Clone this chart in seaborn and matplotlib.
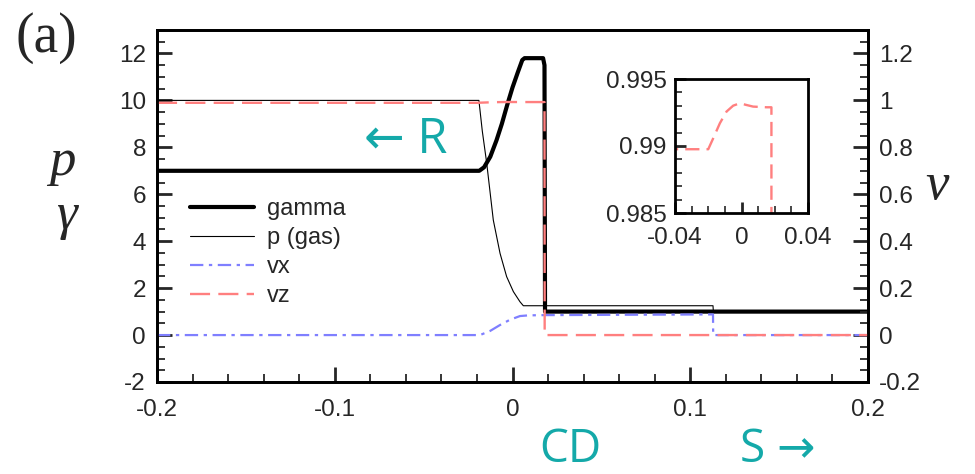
import numpy as np
import pandas as pd
import matplotlib
matplotlib.use("Agg")
import matplotlib.pyplot as plt
from matplotlib.ticker import MultipleLocator, FuncFormatter
import seaborn as sns

sns.set_style("white")
plt.rcParams["font.family"] = ["Liberation Sans", "DejaVu Sans"]
plt.rcParams["axes.unicode_minus"] = False

# Lorentz factor profile
x_gamma = [-0.2, -0.0187, -0.0160, -0.0125, -0.0090, -0.0060, -0.0030, 0.0000, 0.0030,
           0.0055, 0.0068, 0.0172, 0.0180, 0.0183, 0.2]
gamma = [7.0, 7.0, 7.15, 7.6, 8.3, 9.0, 9.8, 10.55, 11.2, 11.72, 11.8, 11.8, 11.5, 1.0, 1.0]

# gas pressure profile
x_p = [-0.2, -0.0189, -0.0170, -0.0145, -0.0108, -0.0070, -0.0033, 0.0005, 0.0042, 0.0061,
       0.1128, 0.1130, 0.2]
p_gas = [10.0, 10.0, 8.7, 7.32, 4.90, 3.48, 2.49, 1.85, 1.42, 1.25, 1.25, 1.0, 1.0]

# velocity components
x_vx = [-0.2, -0.0183, -0.0125, -0.0070, -0.0015, 0.0042, 0.0090, 0.0183, 0.1128, 0.1129, 0.2]
vx = [0.0, 0.0, 0.018, 0.043, 0.065, 0.081, 0.084, 0.085, 0.088, 0.0, 0.0]

x_vz = [-0.2, -0.020, -0.017, -0.013, -0.009, -0.005, -0.001, 0.003, 0.007, 0.015, 0.0180,
        0.0181, 0.2]
vz = [0.98976, 0.98976, 0.99058, 0.99170, 0.99257, 0.99301, 0.99319, 0.99306, 0.99294,
      0.99289, 0.99289, 0.0, 0.0]

labels = ["gamma", "p (gas)", "vx", "vz"]

TEAL = "#14a9a9"
BLUE = "#7f7fff"
PINK = "#ff7f7f"
TICK_FS = 17.5

W, H = 975, 474
fig = plt.figure(figsize=(W / 100, H / 100), dpi=100)
ax = fig.add_axes([157 / W, 1 - 382 / H, 711 / W, 352 / H])
ax2 = ax.twinx()

line_kw = dict(estimator=None, sort=False, legend=False)
sns.lineplot(x=x_gamma, y=gamma, ax=ax, color="black", linewidth=3.0, **line_kw)
sns.lineplot(x=x_p, y=p_gas, ax=ax, color="black", linewidth=0.8, **line_kw)
sns.lineplot(x=x_vx, y=vx, ax=ax2, color=BLUE, linewidth=1.6,
             linestyle=(0, (6, 2.5, 1.5, 2.5)), **line_kw)
sns.lineplot(x=x_vz, y=vz, ax=ax2, color=PINK, linewidth=1.7,
             linestyle=(0, (8.5, 3.5)), **line_kw)

fmt = FuncFormatter(lambda v, pos: f"{v:g}")

ax.set_xlim(-0.2, 0.2)
ax.set_ylim(-2, 13)
ax2.set_ylim(-0.2, 1.3)
ax.set_xticks(np.arange(-0.2, 0.2001, 0.1))
ax.xaxis.set_minor_locator(MultipleLocator(0.02))
ax.set_yticks(np.arange(-2, 12.01, 2))
ax.yaxis.set_minor_locator(MultipleLocator(0.5))
ax2.set_yticks(np.arange(-0.2, 1.201, 0.2))
ax2.yaxis.set_minor_locator(MultipleLocator(0.05))
for a in (ax, ax2):
    a.xaxis.set_major_formatter(fmt)
    a.yaxis.set_major_formatter(fmt)
    a.set_xlabel("")
    a.set_ylabel("")
    a.grid(False)
    for s in a.spines.values():
        s.set_linewidth(2)
        s.set_color("black")

ax.tick_params(axis="y", which="major", direction="in", length=11, width=2,
               labelsize=TICK_FS, pad=8, left=True, right=False)
ax.tick_params(axis="x", which="major", direction="in", length=11, width=2,
               labelsize=TICK_FS, pad=12, bottom=True, top=False)
ax.tick_params(axis="both", which="minor", direction="in", length=6, width=1.3,
               left=True, bottom=True, right=False, top=False)
ax2.tick_params(axis="y", which="major", direction="in", length=11, width=2,
                labelsize=TICK_FS, pad=8, right=True, left=False)
ax2.tick_params(axis="y", which="minor", direction="in", length=6, width=1.3,
                right=True, left=False)

# legend
handles = [ax.lines[0], ax.lines[1], ax2.lines[0], ax2.lines[1]]
fig.legend(handles, labels, loc="upper left", bbox_to_anchor=(190 / W, 1 - 198 / H),
           frameon=False, fontsize=17, handlelength=2.7, handletextpad=0.55,
           labelspacing=0.3, borderpad=0, borderaxespad=0)

# inset: vz near the contact
axin = fig.add_axes([675 / W, 1 - 213 / H, 133 / W, 134 / H])
sns.lineplot(x=x_vz, y=vz, ax=axin, color=PINK, linewidth=1.7,
             linestyle=(0, (6, 3)), **line_kw)
axin.set_xlim(-0.04, 0.04)
axin.set_ylim(0.985, 0.995)
axin.set_xticks([-0.04, 0, 0.04])
axin.xaxis.set_minor_locator(MultipleLocator(0.01))
axin.set_yticks([0.985, 0.99, 0.995])
axin.yaxis.set_minor_locator(MultipleLocator(0.001))
axin.xaxis.set_major_formatter(fmt)
axin.yaxis.set_major_formatter(fmt)
axin.set_xlabel("")
axin.set_ylabel("")
for s in axin.spines.values():
    s.set_linewidth(2)
    s.set_color("black")
axin.tick_params(axis="y", which="major", direction="in", length=8, width=2,
                 labelsize=TICK_FS, pad=6, left=True, right=False)
axin.tick_params(axis="x", which="major", direction="in", length=8, width=2,
                 labelsize=TICK_FS, pad=10, bottom=True, top=False)
axin.tick_params(axis="both", which="minor", direction="in", length=5, width=1.2,
                 left=True, bottom=True, right=False, top=False)

# annotations
serif = ["Liberation Serif", "DejaVu Serif"]
fig.text(46 / W, 1 - 38 / H, "(a)", family=serif, fontsize=40, ha="center", va="center")
fig.text(62 / W, 1 - 162 / H, "p", family=serif, style="italic", fontsize=38, ha="center", va="center")
fig.text(66 / W, 1 - 216 / H, "γ", family=serif, style="italic", fontsize=38, ha="center", va="center")
fig.text(937 / W, 1 - 186 / H, "v", family=serif, style="italic", fontsize=38, ha="center", va="center")

sans = ["Open Sans", "DejaVu Sans"]
fig.text(406 / W, 1 - 140 / H, "← R", family=sans, color=TEAL, fontsize=35, ha="center", va="center")
fig.text(570 / W, 1 - 450 / H, "CD", family=sans, color=TEAL, fontsize=33, ha="center", va="center")
fig.text(778 / W, 1 - 450 / H, "S →", family=sans, color=TEAL, fontsize=33, ha="center", va="center")

fig.savefig("out.png", dpi=100)
